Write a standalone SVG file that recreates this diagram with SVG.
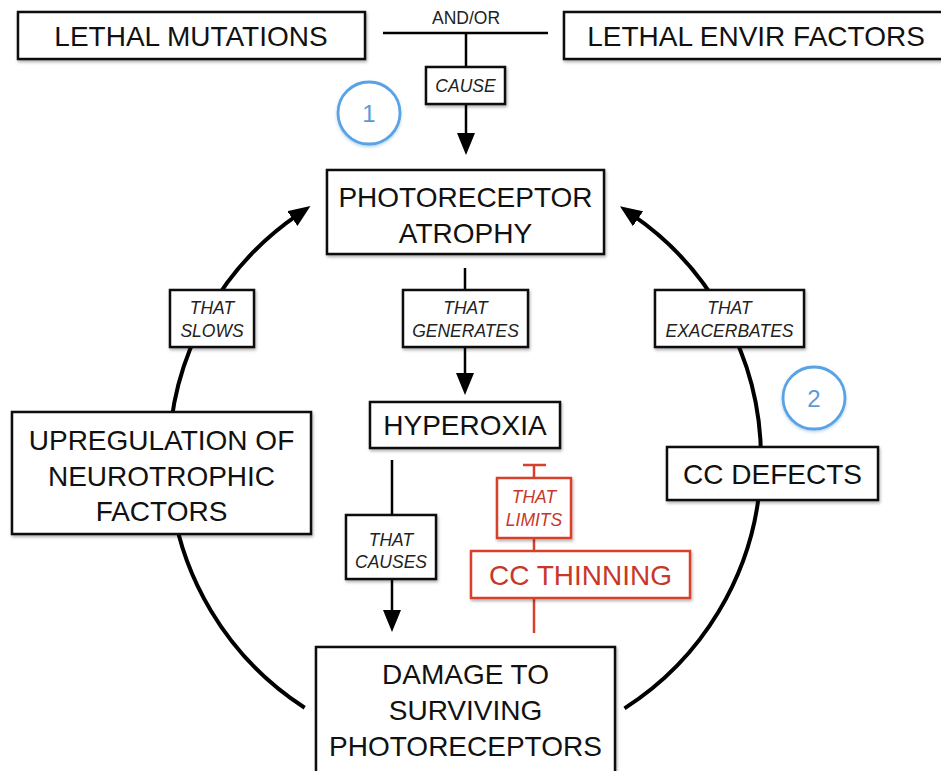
<svg xmlns="http://www.w3.org/2000/svg" width="941" height="771" viewBox="0 0 941 771">
  <defs>
    <filter id="shadow" x="-10%" y="-10%" width="130%" height="140%">
      <feDropShadow dx="1" dy="2" stdDeviation="1.4" flood-color="#000" flood-opacity="0.3"/>
    </filter>
    <filter id="glow" x="-30%" y="-30%" width="160%" height="160%">
      <feDropShadow dx="0" dy="1.5" stdDeviation="1.5" flood-color="#2f7fd0" flood-opacity="0.35"/>
    </filter>
    <marker id="head" markerUnits="userSpaceOnUse" markerWidth="22" markerHeight="18" refX="6" refY="9" orient="auto">
      <path d="M0,0 L22,9 L0,18 z" fill="#000"/>
    </marker>
  </defs>
  <style>
    .box { fill: #fff; stroke: #111; stroke-width: 2.5; filter: url(#shadow); }
    .rbox { fill: #fff; stroke: #d8402c; stroke-width: 2.5; filter: url(#shadow); }
    .big { font-family: "Liberation Sans", Arial, sans-serif; font-size: 28px; fill: #111; text-anchor: middle; }
    .red { fill: #c8372a; }
    .lbl { font-family: "Liberation Sans", Arial, sans-serif; font-size: 17.5px; font-style: italic; fill: #222; text-anchor: middle; }
    .lblr { font-family: "Liberation Sans", Arial, sans-serif; font-size: 17.5px; font-style: italic; fill: #c8372a; text-anchor: middle; }
    .conn { fill: none; stroke: #000; stroke-width: 2.5; }
    .arc { fill: none; stroke: #000; stroke-width: 4; }
    .rconn { fill: none; stroke: #d8402c; stroke-width: 2.5; }
    .num { fill: #fff; stroke: #5aa2e6; stroke-width: 2.8; filter: url(#glow); }
    .numt { font-family: "Liberation Sans", Arial, sans-serif; font-size: 24px; fill: #5b9ad8; text-anchor: middle; }
  </style>

  <rect width="941" height="771" fill="#fff"/>

  <!-- connectors -->
  <g id="connectors">
    <path class="conn" d="M383,33 H548"/>
    <path class="conn" d="M466,33 V139" marker-end="url(#head)"/>
    <path class="conn" d="M465,268 V379" marker-end="url(#head)"/>
    <path class="conn" d="M392,460 V616" marker-end="url(#head)"/>
    <path class="arc" d="M304.7,707.8 A296,296 0 0 1 297.3,215.1" marker-end="url(#head)"/>
    <path class="arc" d="M624.5,708.4 A296,296 0 0 0 633.1,215.4" marker-end="url(#head)"/>
    <path class="rconn" d="M523,465 H546 M534,465 V633"/>
  </g>

  <!-- nodes -->
  <g id="lethal-mutations">
    <rect class="box" x="18" y="12" width="347" height="47"/>
    <text class="big" x="191" y="46">LETHAL MUTATIONS</text>
  </g>
  <g id="lethal-envir">
    <rect class="box" x="564" y="12" width="380" height="47"/>
    <text class="big" x="756" y="46">LETHAL ENVIR FACTORS</text>
  </g>
  <g id="and-or">
    <text class="lbl" x="466" y="24" style="font-style:normal;font-size:17.5px">AND/OR</text>
  </g>
  <g id="cause">
    <rect class="box" x="426" y="67" width="79" height="37"/>
    <text class="lbl" x="465.5" y="92">CAUSE</text>
  </g>
  <g id="marker-1">
    <circle class="num" cx="369" cy="113" r="31"/>
    <text class="numt" x="369" y="122">1</text>
  </g>
  <g id="photoreceptor-atrophy">
    <rect class="box" x="327" y="170" width="277" height="84"/>
    <text class="big" x="465.5" y="207">PHOTORECEPTOR</text>
    <text class="big" x="465.5" y="243">ATROPHY</text>
  </g>
  <g id="that-generates">
    <rect class="box" x="403" y="290" width="125" height="57"/>
    <text class="lbl" x="465.5" y="314">THAT</text>
    <text class="lbl" x="465.5" y="337">GENERATES</text>
  </g>
  <g id="that-slows">
    <rect class="box" x="170" y="290" width="84" height="57"/>
    <text class="lbl" x="212" y="314">THAT</text>
    <text class="lbl" x="212" y="337">SLOWS</text>
  </g>
  <g id="that-exacerbates">
    <rect class="box" x="655" y="290" width="149" height="57"/>
    <text class="lbl" x="729.5" y="314">THAT</text>
    <text class="lbl" x="729.5" y="337">EXACERBATES</text>
  </g>
  <g id="marker-2">
    <circle class="num" cx="814" cy="398" r="31"/>
    <text class="numt" x="814" y="407">2</text>
  </g>
  <g id="hyperoxia">
    <rect class="box" x="370" y="402" width="190" height="46"/>
    <text class="big" x="465" y="435">HYPEROXIA</text>
  </g>
  <g id="upregulation">
    <rect class="box" x="12" y="412" width="299" height="122"/>
    <text class="big" x="161.5" y="450">UPREGULATION OF</text>
    <text class="big" x="161.5" y="486">NEUROTROPHIC</text>
    <text class="big" x="161.5" y="521">FACTORS</text>
  </g>
  <g id="cc-defects">
    <rect class="box" x="667" y="447" width="211" height="53"/>
    <text class="big" x="772.5" y="484">CC DEFECTS</text>
  </g>
  <g id="that-limits">
    <rect class="rbox" x="497" y="478" width="74" height="60"/>
    <text class="lblr" x="534" y="503">THAT</text>
    <text class="lblr" x="534" y="526">LIMITS</text>
  </g>
  <g id="cc-thinning">
    <rect class="rbox" x="471" y="551" width="219" height="47"/>
    <text class="big red" x="580.5" y="585">CC THINNING</text>
  </g>
  <g id="that-causes">
    <rect class="box" x="346" y="515" width="90" height="64"/>
    <text class="lbl" x="391" y="546">THAT</text>
    <text class="lbl" x="391" y="568">CAUSES</text>
  </g>
  <g id="damage">
    <rect class="box" x="316" y="647" width="299" height="130"/>
    <text class="big" x="465.5" y="684">DAMAGE TO</text>
    <text class="big" x="465.5" y="720">SURVIVING</text>
    <text class="big" x="465.5" y="756">PHOTORECEPTORS</text>
  </g>
</svg>
